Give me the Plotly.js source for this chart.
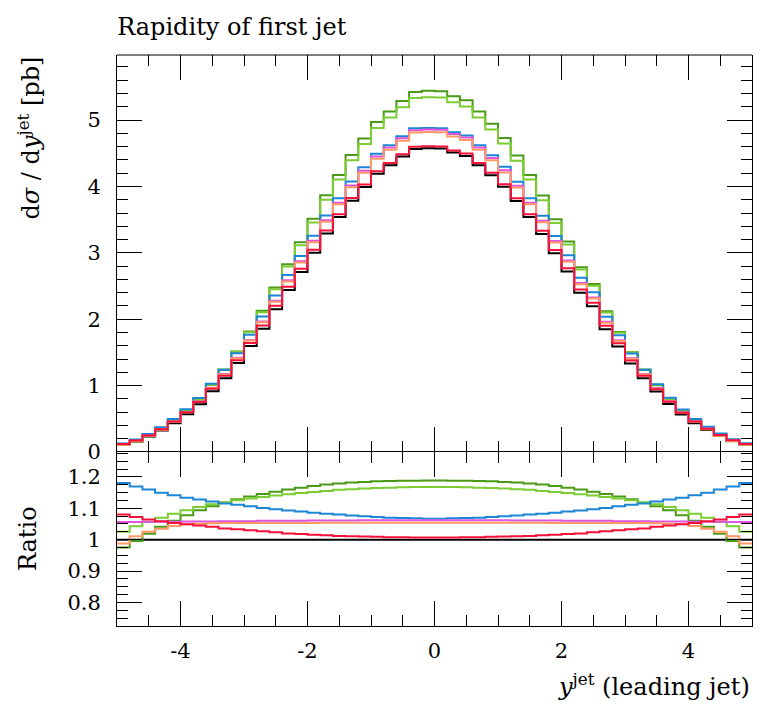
<!DOCTYPE html>
<html>
<head>
<meta charset="utf-8">
<script src="https://cdn.plot.ly/plotly-3.0.1.min.js"></script>
<style>html,body{margin:0;padding:0;background:#fff;}#chart{width:781px;height:706px;}</style>
</head>
<body>
<div id="chart"></div>
<script>
// ---- data ----
var binEdges = [-5,-4.8,-4.6,-4.4,-4.2,-4,-3.8,-3.6,-3.4,-3.2,-3,-2.8,-2.6,-2.4,-2.2,-2,-1.8,-1.6,-1.4,-1.2,-1,-0.8,-0.6,-0.4,-0.2,0,0.2,0.4,0.6,0.8,1,1.2,1.4,1.6,1.8,2,2.2,2.4,2.6,2.8,3,3.2,3.4,3.6,3.8,4,4.2,4.4,4.6,4.8,5];

var refVals = [0.11,0.16,0.235,0.325,0.435,0.57,0.72,0.915,1.11,1.34,1.595,1.855,2.15,2.44,2.71,3.00,3.29,3.54,3.785,3.99,4.19,4.32,4.45,4.565,4.575,4.57,4.51,4.46,4.32,4.17,3.995,3.78,3.54,3.285,2.995,2.72,2.40,2.195,1.85,1.59,1.335,1.11,0.91,0.725,0.565,0.435,0.33,0.24,0.165,0.112];
var darkGreenVals = [0.107,0.159,0.239,0.338,0.461,0.614,0.788,1.013,1.241,1.513,1.815,2.126,2.479,2.830,3.160,3.513,3.869,4.174,4.474,4.724,4.969,5.128,5.287,5.423,5.440,5.434,5.358,5.298,5.128,4.946,4.730,4.468,4.174,3.863,3.507,3.172,2.784,2.531,2.120,1.809,1.507,1.241,1.007,0.793,0.609,0.461,0.344,0.245,0.164,0.109];
var lightGreenVals = [0.113,0.167,0.248,0.348,0.471,0.624,0.795,1.018,1.242,1.509,1.804,2.107,2.453,2.794,3.114,3.456,3.800,4.103,4.394,4.640,4.881,5.037,5.193,5.332,5.344,5.338,5.268,5.205,5.037,4.858,4.646,4.389,4.103,3.794,3.450,3.125,2.748,2.504,2.102,1.798,1.503,1.242,1.013,0.800,0.618,0.471,0.353,0.253,0.172,0.115];
var blueVals = [0.130,0.187,0.273,0.374,0.497,0.646,0.812,1.027,1.238,1.489,1.766,2.042,2.359,2.667,2.954,3.258,3.563,3.823,4.076,4.289,4.492,4.622,4.757,4.875,4.882,4.876,4.817,4.768,4.622,4.470,4.295,4.071,3.823,3.558,3.253,2.965,2.623,2.408,2.037,1.760,1.483,1.238,1.021,0.818,0.641,0.497,0.380,0.278,0.193,0.132];
var magentaVals = [0.116,0.169,0.248,0.344,0.460,0.603,0.762,0.968,1.175,1.419,1.689,1.966,2.279,2.586,2.873,3.183,3.491,3.756,4.016,4.237,4.450,4.588,4.726,4.848,4.859,4.853,4.790,4.737,4.588,4.429,4.243,4.011,3.756,3.485,3.178,2.883,2.544,2.327,1.961,1.684,1.414,1.175,0.963,0.767,0.598,0.460,0.349,0.254,0.174,0.118];
var orangeVals = [0.109,0.162,0.241,0.336,0.454,0.598,0.757,0.963,1.169,1.411,1.680,1.953,2.264,2.569,2.854,3.159,3.468,3.731,3.989,4.205,4.416,4.553,4.690,4.812,4.822,4.817,4.754,4.701,4.553,4.395,4.211,3.984,3.731,3.462,3.154,2.864,2.527,2.311,1.948,1.674,1.406,1.169,0.957,0.762,0.593,0.454,0.342,0.246,0.167,0.111];
var redVals = [0.119,0.172,0.250,0.344,0.458,0.598,0.752,0.953,1.150,1.384,1.643,1.905,2.202,2.489,2.759,3.048,3.336,3.582,3.827,4.030,4.228,4.355,4.486,4.597,4.607,4.602,4.542,4.496,4.355,4.208,4.035,3.822,3.582,3.331,3.043,2.769,2.448,2.248,1.900,1.638,1.379,1.150,0.947,0.758,0.593,0.458,0.349,0.255,0.177,0.121];

var refRatio = [1,1,1,1,1,1,1,1,1,1,1,1,1,1,1,1,1,1,1,1,1,1,1,1,1,1,1,1,1,1,1,1,1,1,1,1,1,1,1,1,1,1,1,1,1,1,1,1,1,1];
var darkGreenRatio = [0.975,0.996,1.019,1.041,1.060,1.078,1.094,1.107,1.118,1.129,1.138,1.146,1.153,1.160,1.166,1.171,1.176,1.179,1.182,1.184,1.186,1.187,1.188,1.188,1.189,1.189,1.188,1.188,1.187,1.186,1.184,1.182,1.179,1.176,1.171,1.166,1.160,1.153,1.146,1.138,1.129,1.118,1.107,1.094,1.078,1.060,1.041,1.019,0.996,0.975];
var lightGreenRatio = [1.025,1.043,1.056,1.070,1.083,1.094,1.104,1.113,1.119,1.126,1.131,1.136,1.141,1.145,1.149,1.152,1.155,1.159,1.161,1.163,1.165,1.166,1.167,1.168,1.168,1.168,1.168,1.167,1.166,1.165,1.163,1.161,1.159,1.155,1.152,1.149,1.145,1.141,1.136,1.131,1.126,1.119,1.113,1.104,1.094,1.083,1.070,1.056,1.043,1.025];
var blueRatio = [1.181,1.170,1.160,1.150,1.142,1.134,1.128,1.122,1.115,1.111,1.107,1.101,1.097,1.093,1.090,1.086,1.083,1.080,1.077,1.075,1.072,1.070,1.069,1.068,1.067,1.067,1.068,1.069,1.070,1.072,1.075,1.077,1.080,1.083,1.086,1.090,1.093,1.097,1.101,1.107,1.111,1.115,1.122,1.128,1.134,1.142,1.150,1.160,1.170,1.181];
var magentaRatio = [1.056,1.056,1.057,1.057,1.057,1.058,1.058,1.058,1.059,1.059,1.059,1.060,1.060,1.060,1.060,1.061,1.061,1.061,1.061,1.062,1.062,1.062,1.062,1.062,1.062,1.062,1.062,1.062,1.062,1.062,1.062,1.061,1.061,1.061,1.061,1.060,1.060,1.060,1.060,1.059,1.059,1.059,1.058,1.058,1.058,1.057,1.057,1.057,1.056,1.056];
var orangeRatio = [0.988,1.011,1.025,1.035,1.044,1.049,1.051,1.052,1.053,1.053,1.053,1.053,1.053,1.053,1.053,1.053,1.054,1.054,1.054,1.054,1.054,1.054,1.054,1.054,1.054,1.054,1.054,1.054,1.054,1.054,1.054,1.054,1.054,1.054,1.053,1.053,1.053,1.053,1.053,1.053,1.053,1.053,1.052,1.051,1.049,1.044,1.035,1.025,1.011,0.988];
var redRatio = [1.080,1.072,1.064,1.059,1.053,1.049,1.045,1.041,1.036,1.033,1.030,1.027,1.024,1.020,1.018,1.016,1.014,1.012,1.011,1.010,1.009,1.008,1.008,1.007,1.007,1.007,1.007,1.008,1.008,1.009,1.010,1.011,1.012,1.014,1.016,1.018,1.020,1.024,1.027,1.030,1.033,1.036,1.041,1.045,1.049,1.053,1.059,1.064,1.072,1.080];

var xTickVals = [-4,-2,0,2,4];
var xTickText = ['-4','-2','0','2','4'];
var yTickVals = [0,1,2,3,4,5];
var yTickText = ['0','1','2','3','4','5'];
var rTickVals = [0.8,0.9,1,1.1,1.2];
var rTickText = ['0.8','0.9','1','1.1','1.2'];

// ---- styling ----
var FONT = 'DejaVu Serif, Liberation Serif, serif';
var series = [
  {main: refVals,        ratio: refRatio,        color: '#000000'},
  {main: darkGreenVals,  ratio: darkGreenRatio,  color: '#4a9a18'},
  {main: lightGreenVals, ratio: lightGreenRatio, color: '#7ccc34'},
  {main: blueVals,       ratio: blueRatio,       color: '#1b86d6'},
  {main: magentaVals,    ratio: magentaRatio,    color: '#dd55dd'},
  {main: orangeVals,     ratio: orangeRatio,     color: '#ff9966'},
  {main: redVals,        ratio: redRatio,        color: '#f5113a'}
];

function stepY(v){ return v.concat([v[v.length-1]]); }

var traces = [];
series.forEach(function(s){
  traces.push({x: binEdges, y: stepY(s.main), xaxis:'x', yaxis:'y', type:'scatter', mode:'lines',
    line:{shape:'hv', color:s.color, width:2}, hoverinfo:'skip', showlegend:false});
});
series.forEach(function(s){
  traces.push({x: binEdges, y: stepY(s.ratio), xaxis:'x2', yaxis:'y2', type:'scatter', mode:'lines',
    line:{shape:'hv', color:s.color, width:2}, hoverinfo:'skip', showlegend:false});
});

var split = 0.3047;
function minorTicks(d){ return {tickmode:'linear', tick0:0, dtick:d, ticklen:11, ticks:'inside', tickcolor:'#000', tickwidth:1}; }
function axBase(){
  return {showline:true, linecolor:'#000', linewidth:1, mirror:'allticks', ticks:'inside',
    tickcolor:'#000', tickwidth:1, ticklen:25, showgrid:false, zeroline:false, fixedrange:true,
    tickfont:{family:FONT, size:21, color:'#000'}};
}
var xa = axBase(); Object.assign(xa, {domain:[0,1], anchor:'y', range:[-5,5], tickmode:'array', tickvals:xTickVals, ticktext:xTickText,
  showticklabels:false, showline:false, minor:minorTicks(0.5)});
var xa2 = axBase(); Object.assign(xa2, {domain:[0,1], anchor:'y2', range:[-5,5], tickmode:'array', tickvals:xTickVals, ticktext:xTickText,
  ticklabelstandoff:6, minor:minorTicks(0.5)});
var ya = axBase(); Object.assign(ya, {domain:[split,1], anchor:'x', range:[0,5.98], tickmode:'array', tickvals:yTickVals, ticktext:yTickText,
  ticklabelstandoff:11, minor:minorTicks(0.2)});
var ya2 = axBase(); Object.assign(ya2, {domain:[0,split], anchor:'x2', range:[0.7246,1.2796], tickmode:'array', tickvals:rTickVals, ticktext:rTickText,
  ticklabelstandoff:11, minor:minorTicks(0.025)});

var layout = {
  width:781, height:706,
  margin:{l:117, r:29, t:55, b:80, pad:0},
  paper_bgcolor:'#fff', plot_bgcolor:'#fff',
  showlegend:false,
  font:{family:FONT, color:'#000'},
  title:{text:'Rapidity of first jet', x:0.15, xref:'container', xanchor:'left', y:0.963, yref:'container', yanchor:'middle',
    font:{family:FONT, size:24, color:'#000'}},
  xaxis: xa, xaxis2: xa2, yaxis: ya, yaxis2: ya2,
  shapes:[
    {type:'line', xref:'paper', yref:'paper', x0:0, x1:1, y0:1, y1:1, line:{color:'#000', width:1}}
  ],
  annotations:[
    {text:'d<i>σ</i> / d<i>y</i><sup>jet</sup> [pb]', xref:'paper', yref:'paper', x:-0.140, y:1, xanchor:'center', yanchor:'top',
      textangle:-90, showarrow:false, font:{family:FONT, size:24, color:'#000'}},
    {text:'Ratio', xref:'paper', yref:'paper', x:-0.140, y:split/2, xanchor:'center', yanchor:'middle',
      textangle:-90, showarrow:false, font:{family:FONT, size:24, color:'#000'}},
    {text:'<i>y</i><sup>jet</sup> (leading jet)', xref:'paper', yref:'paper', x:1, y:-0.104, xanchor:'right', yanchor:'middle',
      showarrow:false, font:{family:FONT, size:24, color:'#000'}}
  ]
};

Plotly.newPlot('chart', traces, layout, {displayModeBar:false, staticPlot:true});
</script>
</body>
</html>
